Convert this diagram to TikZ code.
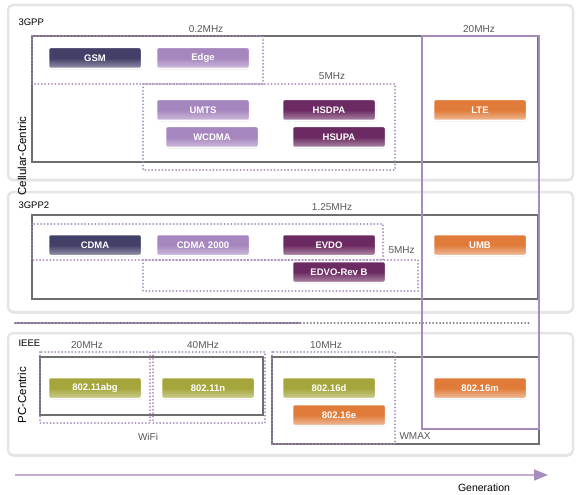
\documentclass[tikz,border=0pt]{standalone}
\usepackage{fontspec}
\setmainfont{Liberation Sans}
\usetikzlibrary{positioning,shadows,arrows.meta}
\definecolor{navy}{HTML}{423F68}
\definecolor{lilac}{HTML}{A686BF}
\definecolor{plum}{HTML}{6C2A62}
\definecolor{tangerine}{HTML}{E07B3A}
\definecolor{olive}{HTML}{A4A53A}
\definecolor{dotpurple}{HTML}{A68BBC}
\definecolor{framegray}{HTML}{6E6E6E}
\tikzset{
  panel/.style={rounded corners=5pt, draw=black!10, line width=2.5pt, fill=white,
    drop shadow={opacity=0.3, shadow xshift=0pt, shadow yshift=-1.5pt}},
  band/.style={draw=framegray, line width=1.2pt},
  reach/.style={draw=dotpurple, line width=1.2pt},
  span/.style={draw=dotpurple, line width=2pt, dash pattern=on 0pt off 3.4pt, line cap=round},
  tech/.style={rectangle, rounded corners=2pt, draw=white, line width=1.5pt,
    minimum width=93pt, minimum height=21pt, inner sep=0pt, text=white,
    font=\fontsize{9.5}{10}\selectfont\bfseries,
    drop shadow={opacity=0.3, shadow xshift=0.6pt, shadow yshift=-0.8pt}},
  navytech/.style={tech, top color=navy, bottom color=navy!55!white, middle color=navy},
  lilactech/.style={tech, top color=lilac, bottom color=lilac!55!white, middle color=lilac},
  plumtech/.style={tech, top color=plum, bottom color=plum!55!white, middle color=plum},
  orangetech/.style={tech, top color=tangerine, bottom color=tangerine!50!white, middle color=tangerine},
  olivetech/.style={tech, top color=olive, bottom color=olive!55!white, middle color=olive},
  mhz/.style={text=black!65, font=\fontsize{10}{11}\selectfont},
  org/.style={anchor=west, font=\fontsize{9.5}{10}\selectfont},
  side/.style={rotate=90, font=\fontsize{11.5}{12}\selectfont}
}

\begin{document}
\begin{tikzpicture}[x=1pt,y=-1pt]
  \useasboundingbox (0,0) rectangle (582,495);

  % panels
  \draw[panel] (8,5) rectangle (573,180);
  \draw[panel] (8,192) rectangle (573,312);
  \draw[panel] (8,333) rectangle (573,455);

  % separator
  \coordinate (SepStart) at (15,323);
  \coordinate (SepMid) at (300,323);
  \coordinate (SepEnd) at (530,323);
  \draw[draw=dotpurple, line width=1.6pt] (SepStart) -- (SepMid);
  \draw[draw=framegray, line width=2pt, dash pattern=on 0pt off 3.4pt, line cap=round] (SepStart) -- (SepEnd);

  % solid frames
  \draw[band] (32,36) rectangle (538,162);
  \draw[band] (32,215) rectangle (538,299);
  \draw[band] (40,357) rectangle (263,415);
  \draw[band] (272,357) rectangle (539,444);
  \draw[reach] (422,36) rectangle (539,429);

  % dotted spans
  \draw[span] (32,36) rectangle (263,84);
  \draw[span] (143,84) rectangle (395,170);
  \draw[span] (32,224) rectangle (383,260);
  \draw[span] (143,260) rectangle (418,291);
  \draw[span] (40,352) rectangle (150,423);
  \draw[span] (153,352) rectangle (265,423);
  \draw[span] (272,352) rectangle (395,444);

  % 3GPP
  \node[org] (TGPP) at (15,22) {3GPP};
  \node[mhz] (Narrow) at (206,29) {0.2MHz};
  \node[mhz] (Wide) at (479,29) {20MHz};
  \node[mhz] (Mid) at (332,76) {5MHz};
  \node[navytech] (GSM) at (95,58) {GSM};
  \node[lilactech] (Edge) at (203,58) {Edge};
  \node[lilactech] (UMTS) at (203,110) {UMTS};
  \node[lilactech] (WCDMA) at (212,137) {WCDMA};
  \node[plumtech] (HSDPA) at (329,110) {HSDPA};
  \node[plumtech] (HSUPA) at (339,137) {HSUPA};
  \node[orangetech] (LTE) at (480,110) {LTE};

  % 3GPP2
  \node[org] (TGPPtwo) at (15,205) {3GPP2};
  \node[mhz] (Carrier) at (332,207) {1.25MHz};
  \node[mhz, anchor=west] (EvMid) at (385,250) {5MHz};
  \node[navytech] (CDMA) at (95,245) {CDMA};
  \node[lilactech] (CDMAtwo) at (203,245) {CDMA 2000};
  \node[plumtech] (EVDO) at (329,245) {EVDO};
  \node[plumtech] (EVDOB) at (339,272) {EDVO-Rev B};
  \node[orangetech] (UMB) at (480,245) {UMB};

  % IEEE
  \node[org] (IEEE) at (15,343) {IEEE};
  \node[mhz] (WiA) at (87,345) {20MHz};
  \node[mhz] (WiB) at (203,345) {40MHz};
  \node[mhz] (WmA) at (326,345) {10MHz};
  \node[mhz] (WiFi) at (148,437) {WiFi};
  \node[mhz, anchor=west] (WMAX) at (396,436) {WMAX};
  \node[olivetech] (Abg) at (95,388) {802.11abg};
  \node[olivetech] (N) at (208,388) {802.11n};
  \node[olivetech] (SixD) at (329,388) {802.16d};
  \node[orangetech] (SixE) at (339,415) {802.16e};
  \node[orangetech] (SixM) at (480,388) {802.16m};

  % side labels
  \node[side] (Cell) at (22,156) {Cellular-Centric};
  \node[side] (PC) at (22,395) {PC-Centric};

  % generation axis
  \coordinate (GenStart) at (15,475);
  \coordinate (GenEnd) at (548,475);
  \draw[draw=dotpurple!70!white, line width=1.6pt, -{Triangle[length=14pt,width=11pt,color=dotpurple,fill=dotpurple]}] (GenStart) -- (GenEnd);
  \node[font=\fontsize{10.5}{11}\selectfont] (Gen) at (484,488) {Generation};
\end{tikzpicture}
\end{document}
